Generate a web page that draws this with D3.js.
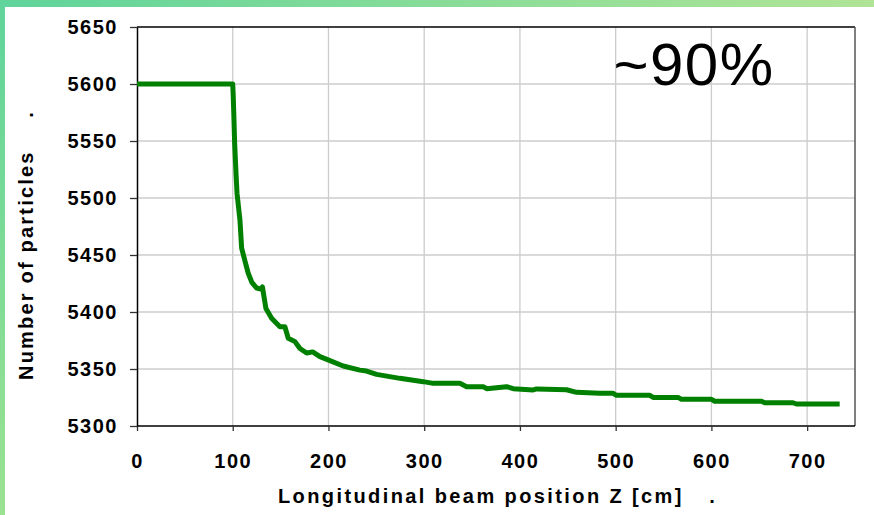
<!DOCTYPE html>
<html>
<head>
<meta charset="utf-8">
<script src="https://cdn.jsdelivr.net/npm/d3@7"></script>
<style>
  html, body { margin: 0; padding: 0; background: #ffffff; }
  svg { display: block; }
  text { font-family: "Liberation Sans", Arial, sans-serif; }
</style>
</head>
<body>
<svg id="chart" width="874" height="515"></svg>
<script>
// Particle count along the beam line
const zPos = [0, 100, 100.5, 101, 102, 103.5, 104.5, 107.5, 109.3, 113, 116.2, 120, 125, 130.2, 131, 134.7,
  140.6, 149.3, 154.5, 158, 165, 170.2, 177.2, 183.5, 191.1, 201.5, 215.4, 232.8, 239.8, 250.3, 274.6,
  299, 309.4, 337.3, 344.3, 361.6, 365.2, 386, 393, 413.8, 417.4, 448.7, 459.2, 483.4, 497.4, 500.9,
  535.7, 539.1, 565.2, 568.8, 600.1, 603.5, 652.3, 655.7, 685.3, 688.8, 734];
const nParticles = [5600, 5600, 5590, 5577, 5548, 5520, 5504, 5481, 5456, 5444, 5434, 5426, 5421, 5420, 5422, 5403,
  5394.5, 5387, 5387, 5377, 5374, 5368, 5364, 5365, 5360.8, 5357.3, 5352.6, 5349, 5348.2, 5345.3, 5341.8,
  5338.9, 5337.4, 5337.4, 5334.5, 5334.5, 5332.7, 5334.5, 5332.7, 5331.6, 5332.5, 5331.8, 5329.5, 5328.7, 5328.7, 5326.9,
  5326.9, 5325.1, 5325.1, 5323.4, 5323.4, 5321.7, 5321.7, 5320.4, 5320.4, 5319.3, 5319.3];

const xTicks = [0, 100, 200, 300, 400, 500, 600, 700];
const yTicks = [5300, 5350, 5400, 5450, 5500, 5550, 5600, 5650];
const xTitle = "Longitudinal beam position Z [cm]";
const yTitle = "Number of particles";
const note = "~90%";

const svg = d3.select("#chart");
const W = 874, H = 515;

// Frame gradients
const defs = svg.append("defs");
const gTop = defs.append("linearGradient").attr("id", "gTop").attr("x1", "0").attr("x2", "1").attr("y1", "0").attr("y2", "0");
gTop.append("stop").attr("offset", "0").attr("stop-color", "#5fd49b");
gTop.append("stop").attr("offset", "1").attr("stop-color", "#b0e496");
const gLeft = defs.append("linearGradient").attr("id", "gLeft").attr("x1", "0").attr("x2", "0").attr("y1", "0").attr("y2", "1");
gLeft.append("stop").attr("offset", "0").attr("stop-color", "#5fd49b");
gLeft.append("stop").attr("offset", "1").attr("stop-color", "#9be291");

svg.append("rect").attr("x", 0).attr("y", 0).attr("width", W).attr("height", H).attr("fill", "#ffffff");
svg.append("rect").attr("x", 0).attr("y", 0).attr("width", W).attr("height", 7).attr("fill", "url(#gTop)");
svg.append("rect").attr("x", 0).attr("y", 0).attr("width", 5).attr("height", H).attr("fill", "url(#gLeft)");

const plot = { left: 137, right: 855, top: 27, bottom: 426 };
const x = d3.scaleLinear().domain([0, 750]).range([plot.left, plot.right]);
const y = d3.scaleLinear().domain([5300, 5650]).range([plot.bottom, plot.top]);

// Grid
const grid = svg.append("g");
grid.selectAll("line.v").data(xTicks.filter(d => d > 0)).join("line")
  .attr("x1", d => x(d)).attr("x2", d => x(d)).attr("y1", plot.top).attr("y2", plot.bottom)
  .attr("stroke", "#cccccc").attr("stroke-width", 1.3);
grid.selectAll("line.h").data(yTicks.filter(d => d > 5300 && d < 5650)).join("line")
  .attr("x1", plot.left).attr("x2", plot.right).attr("y1", d => y(d)).attr("y2", d => y(d))
  .attr("stroke", "#cccccc").attr("stroke-width", 1.3);

// Plot border
svg.append("line").attr("x1", plot.left).attr("x2", plot.right).attr("y1", plot.top).attr("y2", plot.top)
  .attr("stroke", "#000").attr("stroke-width", 1.3);
svg.append("line").attr("x1", plot.right).attr("x2", plot.right).attr("y1", plot.top).attr("y2", plot.bottom)
  .attr("stroke", "#555").attr("stroke-width", 1.5);

// Axes
const fmt = d3.format("d");
const xAxis = d3.axisBottom(x).tickValues(xTicks).tickFormat(fmt).tickSize(5).tickPadding(23).tickSizeOuter(0);
const yAxis = d3.axisLeft(y).tickValues(yTicks).tickFormat(fmt).tickSize(7).tickPadding(12).tickSizeOuter(0);

const gx = svg.append("g").attr("transform", `translate(0,${plot.bottom})`).call(xAxis);
gx.select(".domain").attr("stroke", "#000").attr("stroke-width", 1.5)
  .attr("d", `M${plot.left},0H${plot.right}`);
gx.selectAll(".tick line").attr("stroke", "#333").attr("stroke-width", 1.3);
gx.selectAll(".tick text").attr("font-size", 20).attr("font-weight", "bold").attr("fill", "#000")
  .attr("letter-spacing", 1.5)
  .attr("font-family", "'Liberation Sans', Arial, sans-serif");

const gy = svg.append("g").attr("transform", `translate(${plot.left},0)`).call(yAxis);
gy.select(".domain").attr("stroke", "#000").attr("stroke-width", 1.5);
gy.selectAll(".tick line").attr("stroke", "#333").attr("stroke-width", 1.3);
gy.selectAll(".tick text").attr("font-size", 20).attr("font-weight", "bold").attr("fill", "#000")
  .attr("letter-spacing", 1.5)
  .attr("font-family", "'Liberation Sans', Arial, sans-serif");

// Data line
const line = d3.line().x((d, i) => x(zPos[i])).y(d => y(d));
svg.append("path").datum(nParticles)
  .attr("d", line)
  .attr("fill", "none")
  .attr("stroke", "#008000")
  .attr("stroke-width", 5)
  .attr("stroke-linejoin", "round")
  .attr("stroke-linecap", "butt");

// Axis titles (each followed by a detached period)
svg.append("text").attr("x", 278).attr("y", 503)
  .attr("font-size", 20).attr("font-weight", "bold").attr("letter-spacing", 2.4)
  .text(xTitle);
svg.append("text").attr("x", 712).attr("y", 503).attr("text-anchor", "middle")
  .attr("font-size", 20).attr("font-weight", "bold").text(".");

svg.append("text").attr("transform", "translate(33,380) rotate(-90)")
  .attr("font-size", 20).attr("font-weight", "bold").attr("letter-spacing", 2.2)
  .text(yTitle);
svg.append("text").attr("transform", "translate(33,115) rotate(-90)").attr("text-anchor", "middle")
  .attr("font-size", 20).attr("font-weight", "bold").text(".");

// Annotation
svg.append("text").attr("x", 694).attr("y", 85).attr("text-anchor", "middle")
  .attr("font-size", 60).attr("letter-spacing", 1.5).attr("fill", "#000")
  .text(note);
</script>
</body>
</html>
